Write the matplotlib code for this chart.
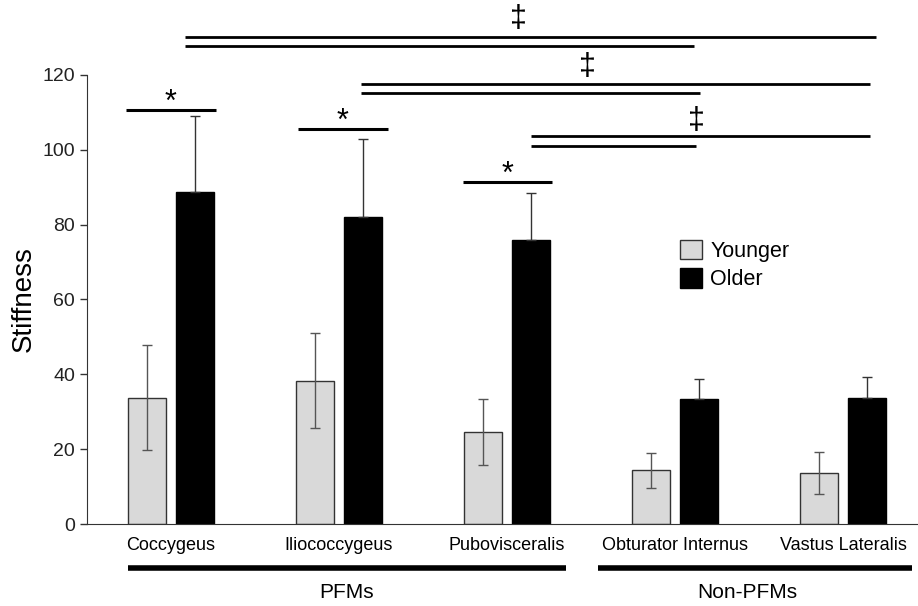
import matplotlib
matplotlib.use("Agg")
import matplotlib.pyplot as plt
import matplotlib.transforms as mtransforms
import numpy as np

plt.rcParams['font.family'] = ['Liberation Sans', 'DejaVu Sans']

muscles = ["Coccygeus", "Iliococcygeus", "Pubovisceralis", "Obturator Internus", "Vastus Lateralis"]
younger = [33.8, 38.3, 24.6, 14.3, 13.6]
younger_sd = [14.0, 12.7, 8.8, 4.6, 5.7]
older = [88.8, 82.0, 76.0, 33.3, 33.6]
older_sd = [20.3, 21.0, 12.4, 5.4, 5.6]

# pairwise (*) brackets: x start, x end, height
star_lines = [(-0.268, 0.266, 110.6), (0.756, 1.289, 105.6), (1.738, 2.268, 91.4)]
# group comparisons (double dagger): x start, long end, short end, upper y, lower y, symbol x, symbol y
dagger_lines = [
    (0.083, 4.196, 3.113, 130.1, 127.7, 2.068, 135.0),
    (1.131, 4.161, 3.149, 117.6, 115.2, 2.476, 122.1),
    (2.143, 4.161, 3.125, 103.7, 101.0, 3.125, 107.6),
]

x = np.arange(len(muscles))
w = 0.223
off = 0.143

fig = plt.figure(figsize=(9.18, 6.06), dpi=100)
ax = fig.add_axes([0.0948, 0.1353, 0.915, 0.741])

ax.bar(x - off, younger, w, color="#d9d9d9", edgecolor="#333333", linewidth=1.0, label="Younger", zorder=2)
ax.bar(x + off, older, w, color="black", edgecolor="black", linewidth=1.0, label="Older", zorder=2)
ax.errorbar(x - off, younger, yerr=younger_sd, fmt="none", ecolor="#555555", elinewidth=1.0,
            capsize=3.5, capthick=1.0, zorder=3)
ax.errorbar(x + off, older, yerr=[np.zeros(len(older)), older_sd], fmt="none", ecolor="#333333",
            elinewidth=1.0, capsize=3.5, capthick=1.0, zorder=3)

ax.set_xlim(-0.5, 4.5)
ax.set_ylim(0, 120)
ax.set_yticks(range(0, 121, 20))
ax.tick_params(axis="y", labelsize=14, length=5, width=1, direction="out", colors="#333333",
               labelcolor="#222222")
ax.tick_params(axis="x", length=0)
ax.set_xticks([])
for s in ["top", "right"]:
    ax.spines[s].set_visible(False)
ax.spines["left"].set_color("#333333")
ax.spines["bottom"].set_color("#333333")
ax.set_ylabel("Stiffness", fontsize=20, labelpad=4)

trans = mtransforms.blended_transform_factory(ax.transData, ax.transAxes)
for xi, name in zip(x, muscles):
    ax.text(xi, -0.047, name, transform=trans, ha="center", va="center", fontsize=13)

# group underlines
ax.plot([-0.256, 2.351], [-0.0985, -0.0985], transform=trans, color="black", lw=4, clip_on=False,
        solid_capstyle="butt")
ax.plot([2.542, 4.41], [-0.0985, -0.0985], transform=trans, color="black", lw=4, clip_on=False,
        solid_capstyle="butt")
ax.text(1.047, -0.153, "PFMs", transform=trans, ha="center", va="center", fontsize=15)
ax.text(3.43, -0.153, "Non-PFMs", transform=trans, ha="center", va="center", fontsize=15)

for x0, x1, yy in star_lines:
    ax.plot([x0, x1], [yy, yy], color="black", lw=2.2, clip_on=False, solid_capstyle="butt")
    ax.text((x0 + x1) / 2, yy - 2.2, "*", ha="center", va="bottom", fontsize=22, clip_on=False)

for x0, xl, xs, yu, yl, xt, yt in dagger_lines:
    ax.plot([x0, xl], [yu, yu], color="black", lw=2.0, clip_on=False, solid_capstyle="butt")
    ax.plot([x0, xs], [yl, yl], color="black", lw=2.0, clip_on=False, solid_capstyle="butt")
    ax.text(xt, yt, "\u2021", ha="center", va="center", fontsize=22, clip_on=False)

ax.legend(loc="upper left", bbox_to_anchor=(0.741, 1 - 240 / 606), bbox_transform=fig.transFigure,
          frameon=False, fontsize=15.5, handlelength=1.0, handleheight=1.0, handletextpad=0.4,
          labelspacing=0.3, borderpad=0, borderaxespad=0)

fig.savefig("out.png", dpi=100)
